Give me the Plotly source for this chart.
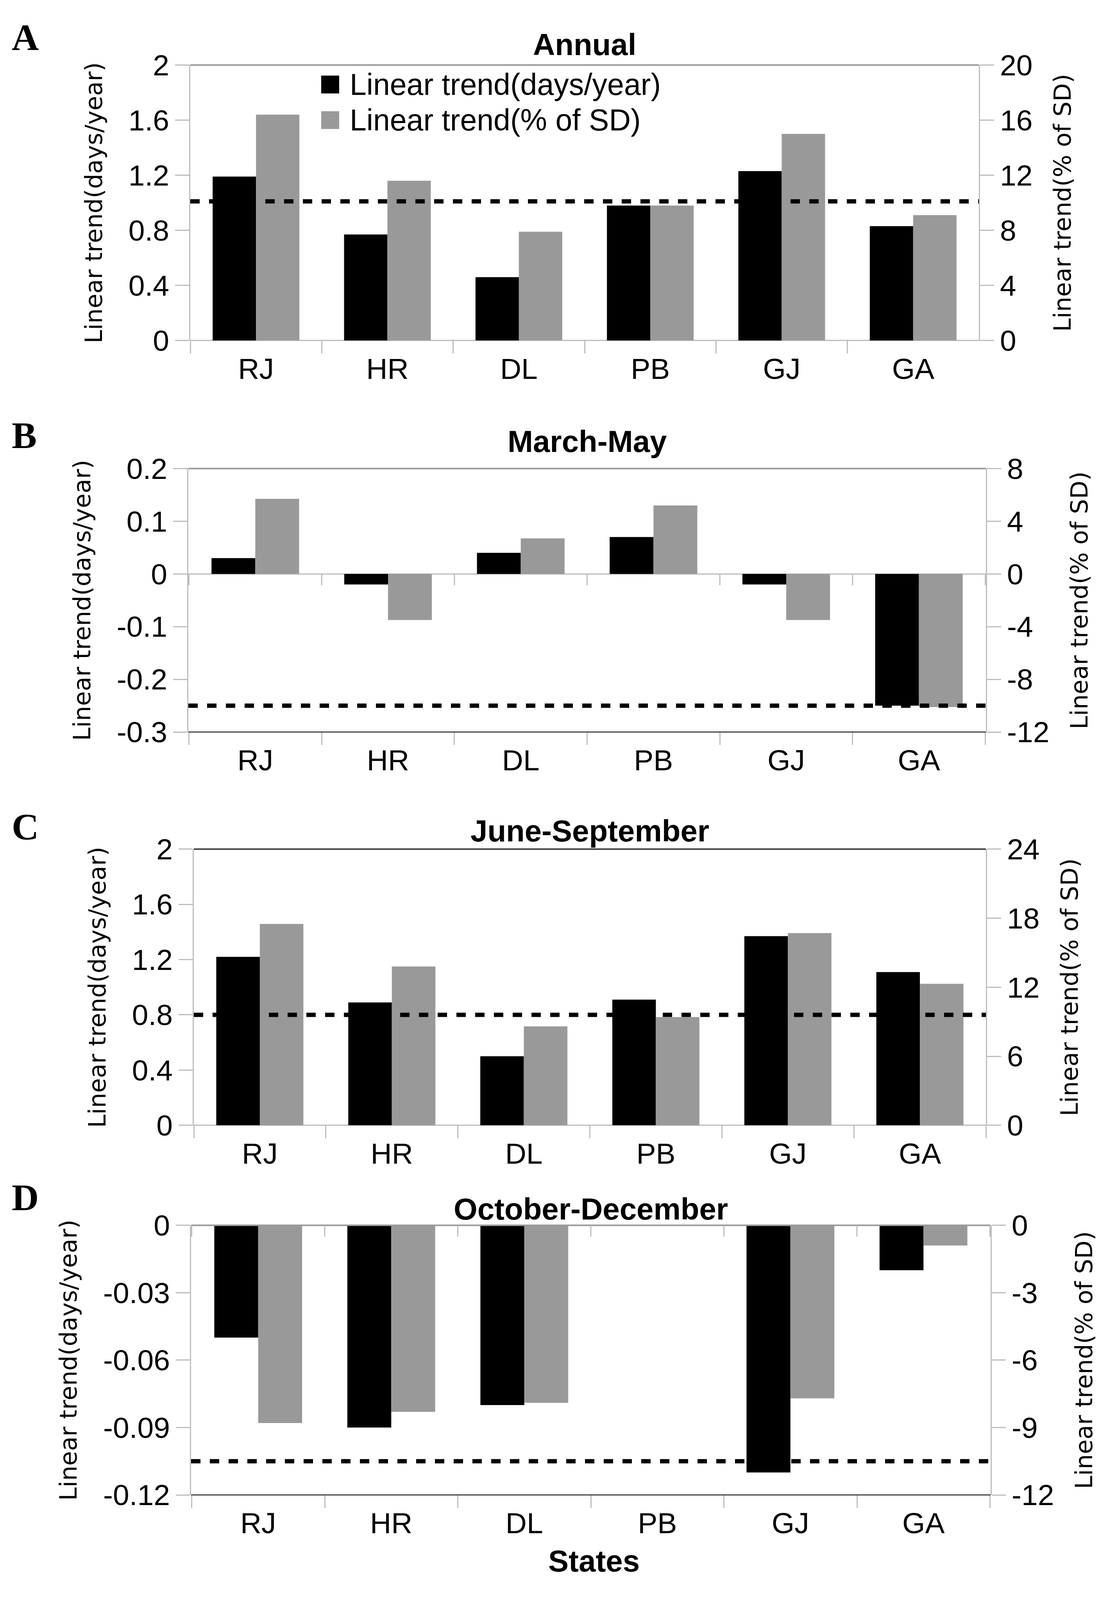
import plotly.graph_objects as go
from plotly.subplots import make_subplots

# ---- data ----
states = ["RJ", "HR", "DL", "PB", "GJ", "GA"]

annual_days = [1.19, 0.77, 0.46, 0.98, 1.23, 0.83]
annual_sd = [16.4, 11.6, 7.9, 9.8, 15.0, 9.1]

mam_days = [0.03, -0.02, 0.04, 0.07, -0.02, -0.25]
mam_sd = [5.7, -3.5, 2.7, 5.2, -3.5, -10.1]

jjas_days = [1.22, 0.89, 0.50, 0.91, 1.37, 1.11]
jjas_sd = [17.5, 13.8, 8.6, 9.4, 16.7, 12.3]

ond_days = [-0.05, -0.09, -0.08, 0.0, -0.11, -0.02]
ond_sd = [-8.8, -8.3, -7.9, 0.0, -7.7, -0.9]

# dashed significance level (days/year axis)
thresholds = [1.01, -0.25, 0.80, -0.105]

titles = ["Annual", "March-May", "June-September", "October-December"]
letters = ["A", "B", "C", "D"]

left_ticks = [
    [0, 0.4, 0.8, 1.2, 1.6, 2],
    [-0.3, -0.2, -0.1, 0, 0.1, 0.2],
    [0, 0.4, 0.8, 1.2, 1.6, 2],
    [-0.12, -0.09, -0.06, -0.03, 0],
]
left_text = [
    ["0", "0.4", "0.8", "1.2", "1.6", "2"],
    ["-0.3", "-0.2", "-0.1", "0", "0.1", "0.2"],
    ["0", "0.4", "0.8", "1.2", "1.6", "2"],
    ["-0.12", "-0.09", "-0.06", "-0.03", "0"],
]
right_ticks = [
    [0, 4, 8, 12, 16, 20],
    [-12, -8, -4, 0, 4, 8],
    [0, 6, 12, 18, 24],
    [-12, -9, -6, -3, 0],
]
right_text = [
    ["0", "4", "8", "12", "16", "20"],
    ["-12", "-8", "-4", "0", "4", "8"],
    ["0", "6", "12", "18", "24"],
    ["-12", "-9", "-6", "-3", "0"],
]

days_series = [annual_days, mam_days, jjas_days, ond_days]
sd_series = [annual_sd, mam_sd, jjas_sd, ond_sd]

# ---- layout geometry ----
# positions measured on the 2815x4579 original; the browser only shows 4096 px
# of height, so the page is squeezed vertically to fit (fractions stay the same)
W, H_REF = 2815, 4579
H = 4096
boxes = [(487, 2505, 142, 947), (482, 2523, 1321, 2091),
         (496, 2523, 2433, 3240), (489, 2535, 3532, 4320)]
title_y = [82, 1242, 2380, 3484]
letter_y = [61, 1224, 2368, 3451]

def fx(p):
    return p / W

def fy(p):
    return 1 - p / H_REF

TICK = dict(family="Liberation Sans", size=75, color="black")
AXT = dict(family="DejaVu Sans", size=61, color="black")
LIGHT = "#bdbdbd"

fig = make_subplots(rows=4, cols=1, specs=[[{"secondary_y": True}]] * 4)

for i in range(4):
    fig.add_trace(go.Bar(x=states, y=days_series[i], name="Linear trend(days/year)",
                         marker=dict(color="#000000", line=dict(width=0)),
                         width=0.33, offset=-0.33, showlegend=False),
                  row=i + 1, col=1, secondary_y=False)
    fig.add_trace(go.Bar(x=states, y=sd_series[i], name="Linear trend(% of SD)",
                         marker=dict(color="#999999", line=dict(width=0)),
                         width=0.33, offset=0.0, showlegend=False),
                  row=i + 1, col=1, secondary_y=True)

layout = {}
for i in range(4):
    x0, x1, y0, y1 = boxes[i]
    xa = "xaxis" if i == 0 else "xaxis%d" % (i + 1)
    ya = "yaxis" if i == 0 else "yaxis%d" % (2 * i + 1)
    yb = "yaxis%d" % (2 * i + 2)
    layout[xa] = dict(domain=[fx(x0), fx(x1)], type="category",
                      showline=False, showgrid=False, zeroline=False,
                      ticks="outside", tickson="boundaries", ticklen=32,
                      tickwidth=3, tickcolor=LIGHT, tickfont=TICK,
                      ticklabelstandoff=22)
    layout[ya] = dict(domain=[fy(y1), fy(y0)],
                      range=[left_ticks[i][0], left_ticks[i][-1]],
                      tickvals=left_ticks[i], ticktext=left_text[i],
                      showline=True, linecolor=LIGHT, linewidth=3,
                      ticks="outside", ticklen=36, tickwidth=3, tickcolor=LIGHT,
                      showgrid=False, zeroline=True, zerolinecolor=LIGHT,
                      zerolinewidth=3, tickfont=TICK,
                      title=dict(text="Linear trend(days/year)", font=AXT, standoff=48))
    layout[yb] = dict(range=[right_ticks[i][0], right_ticks[i][-1]],
                      tickvals=right_ticks[i], ticktext=right_text[i],
                      showline=True, linecolor=LIGHT, linewidth=3,
                      ticks="outside", ticklen=36, tickwidth=3, tickcolor=LIGHT,
                      showgrid=False, zeroline=False, tickfont=TICK,
                      title=dict(text="Linear trend(% of SD)", font=AXT, standoff=56))

fig.update_layout(**layout)

shapes = []
annotations = []
border_top = ["#9a9a9a", "#9a9a9a", "#404040", "#9a9a9a"]
border_bot = [None, "#404040", None, "#404040"]
for i in range(4):
    xr = "x" if i == 0 else "x%d" % (i + 1)
    yr = "y" if i == 0 else "y%d" % (2 * i + 1)
    shapes.append(dict(type="line", xref=xr + " domain", yref=yr + " domain",
                       x0=0, x1=1, y0=1, y1=1,
                       line=dict(color=border_top[i], width=4)))
    if border_bot[i]:
        shapes.append(dict(type="line", xref=xr + " domain", yref=yr + " domain",
                           x0=0, x1=1, y0=0, y1=0,
                           line=dict(color=border_bot[i], width=3)))
    # separators hanging from the zero line when it is not at the bottom
    if left_ticks[i][0] < 0:
        for k in range(len(states) + 1):
            shapes.append(dict(type="line", xref=xr, yref=yr,
                               ysizemode="pixel", yanchor=0,
                               x0=k - 0.5, x1=k - 0.5, y0=0, y1=-29,
                               line=dict(color=LIGHT, width=3)))
    # dashed reference level
    shapes.append(dict(type="line", xref=xr + " domain", yref=yr,
                       x0=0, x1=1, y0=thresholds[i], y1=thresholds[i],
                       line=dict(color="black", width=11, dash="24px,24px")))
    annotations.append(dict(text="<b>%s</b>" % titles[i], xref="paper", yref="paper",
                            x=fx((boxes[i][0] + boxes[i][1]) / 2), y=fy(title_y[i]),
                            xanchor="center", yanchor="middle", showarrow=False,
                            font=dict(family="Liberation Sans", size=78, color="black")))
    annotations.append(dict(text="<b>%s</b>" % letters[i], xref="paper", yref="paper",
                            x=fx(28), y=fy(letter_y[i]), xanchor="left", yanchor="middle",
                            showarrow=False,
                            font=dict(family="Liberation Serif", size=96, color="black")))

# legend drawn by hand so the swatches match the large squares of the original
legend_items = [("Linear trend(days/year)", "#000000", 199),
                ("Linear trend(% of SD)", "#999999", 303)]
for label, color, cy in legend_items:
    shapes.append(dict(type="rect", xref="paper", yref="paper",
                       x0=fx(822), x1=fx(868), y0=fy(cy + 26), y1=fy(cy - 26),
                       fillcolor=color, line=dict(width=0)))
    annotations.append(dict(text=label, xref="paper", yref="paper",
                            x=fx(893), y=fy(cy), xanchor="left", yanchor="middle",
                            showarrow=False,
                            font=dict(family="Liberation Sans", size=77, color="black")))

annotations.append(dict(text="<b>States</b>", xref="paper", yref="paper",
                        x=fx(1520), y=fy(4513), xanchor="center", yanchor="middle",
                        showarrow=False,
                        font=dict(family="Liberation Sans", size=78, color="black")))

fig.update_layout(width=W, height=H, margin=dict(l=0, r=0, t=0, b=0),
                  paper_bgcolor="white", plot_bgcolor="white",
                  barmode="overlay", shapes=shapes, annotations=annotations)

# drop the default body margin so the figure sits flush in the window
fig.write_html("out.html", config={"displayModeBar": False},
               post_script="document.body.style.margin='0';")
